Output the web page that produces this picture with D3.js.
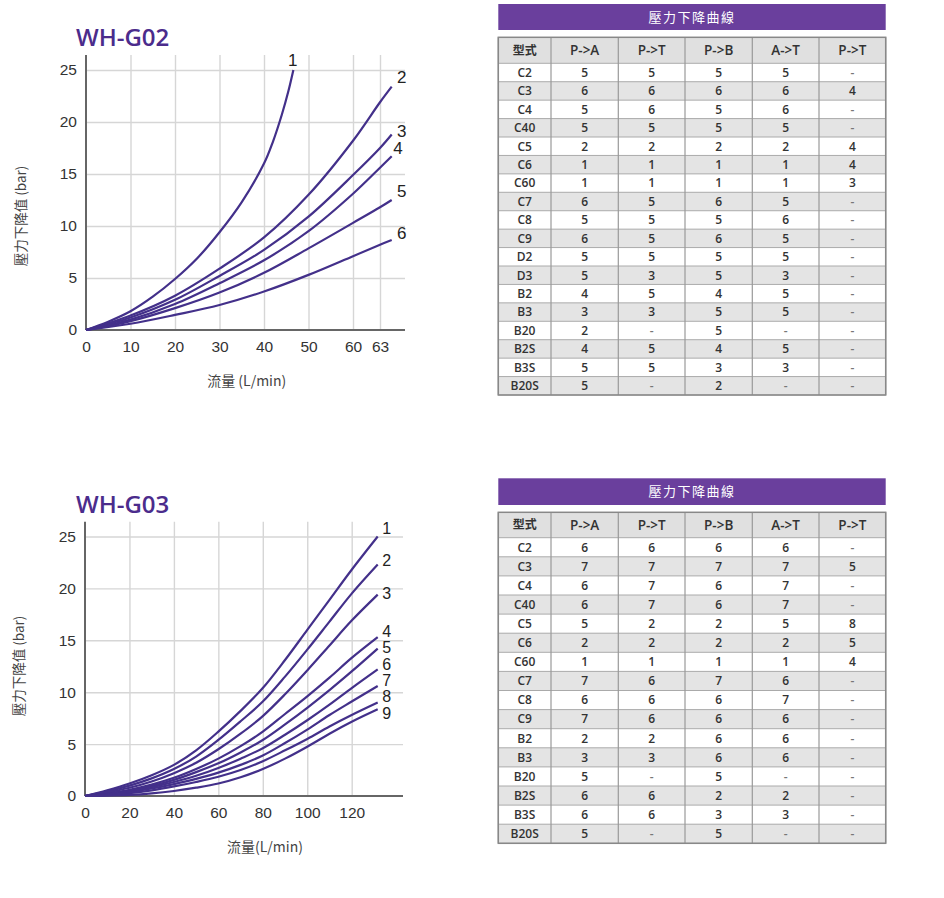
<!DOCTYPE html>
<html>
<head>
<meta charset="utf-8">
<script src="https://cdn.jsdelivr.net/npm/d3@7"></script>
<style>
body { margin: 0; background: #fff; }
svg text { font-family: "Liberation Sans", Arial, "Noto Sans CJK TC", sans-serif; }
.tbl text { font-family: "Open Sans", "Noto Sans CJK TC", sans-serif; }
</style>
</head>
<body>
<svg id="chart" width="944" height="898"></svg>
<script>
// ---- data ----
var yTicks = [0, 5, 10, 15, 20, 25];
var g02XTicks = [0, 10, 20, 30, 40, 50, 60, 63];
var g03XTicks = [0, 20, 40, 60, 80, 100, 120];

var g02Curve1 = [[0,0],[5,0.8],[10,1.8],[15,3.2],[20,4.9],[25,6.9],[30,9.4],[35,12.3],[40,16.0],[42,18.1],[44,20.7],[45.5,23.0],[46.6,25]];
var g02Curve2 = [[0,0],[10,1.4],[20,3.3],[30,5.9],[40,8.9],[50,13.0],[60,18.2],[63,21.9],[64.3,23.4]];
var g02Curve3 = [[0,0],[10,1.2],[20,2.9],[30,5.2],[40,7.7],[50,10.9],[60,14.9],[63,17.5],[64.3,18.8]];
var g02Curve4 = [[0,0],[10,1.0],[20,2.5],[30,4.5],[40,6.7],[50,9.5],[60,13.1],[63,15.6],[64.3,16.7]];
var g02Curve5 = [[0,0],[10,0.85],[20,2.1],[30,3.6],[40,5.5],[50,7.85],[60,10.3],[63,11.8],[64.3,12.5]];
var g02Curve6 = [[0,0],[10,0.6],[20,1.45],[30,2.4],[40,3.7],[50,5.3],[60,7.1],[63,8.2],[64.3,8.65]];

var g03Curve1 = [[0,0],[10,0.55],[20,1.2],[30,2.0],[40,3.0],[50,4.4],[60,6.2],[70,8.2],[80,10.4],[90,13.1],[100,16.0],[110,18.9],[120,21.8],[131.7,25]];
var g03Curve2 = [[0,0],[10,0.45],[20,1.0],[30,1.7],[40,2.6],[50,3.8],[60,5.4],[70,7.2],[80,9.1],[90,11.5],[100,14.1],[110,16.8],[120,19.5],[131.7,22.3]];
var g03Curve3 = [[0,0],[10,0.35],[20,0.8],[30,1.4],[40,2.2],[50,3.2],[60,4.5],[70,6.0],[80,7.7],[90,9.8],[100,12.1],[110,14.5],[120,16.9],[131.7,19.4]];
var g03Curve4 = [[0,0],[10,0.25],[20,0.6],[30,1.1],[40,1.75],[50,2.6],[60,3.6],[70,4.8],[80,6.2],[90,7.9],[100,9.6],[110,11.4],[120,13.3],[131.7,15.3]];
var g03Curve5 = [[0,0],[10,0.2],[20,0.5],[30,0.95],[40,1.55],[50,2.3],[60,3.15],[70,4.2],[80,5.4],[90,6.9],[100,8.5],[110,10.2],[120,12.0],[131.7,14.2]];
var g03Curve6 = [[0,0],[10,0.18],[20,0.45],[30,0.85],[40,1.35],[50,1.95],[60,2.7],[70,3.6],[80,4.6],[90,5.9],[100,7.3],[110,8.8],[120,10.4],[131.7,12.2]];
var g03Curve7 = [[0,0],[10,0.15],[20,0.38],[30,0.72],[40,1.15],[50,1.65],[60,2.25],[70,3.0],[80,3.9],[90,5.1],[100,6.4],[110,7.8],[120,9.1],[131.7,10.6]];
var g03Curve8 = [[0,0],[10,0.1],[20,0.28],[30,0.55],[40,0.92],[50,1.35],[60,1.85],[70,2.5],[80,3.35],[90,4.4],[100,5.5],[110,6.7],[120,7.8],[131.7,9.0]];
var g03Curve9 = [[0,0],[10,0.03],[20,0.1],[30,0.25],[40,0.48],[50,0.8],[60,1.2],[70,1.8],[80,2.6],[90,3.6],[100,4.75],[110,6.0],[120,7.15],[131.7,8.35]];

var tableHeaders = ["型式", "P->A", "P->T", "P->B", "A->T", "P->T"];
var g02Models = ["C2","C3","C4","C40","C5","C6","C60","C7","C8","C9","D2","D3","B2","B3","B20","B2S","B3S","B20S"];
var g02Values = [
  [5,5,5,5,"-"],[6,6,6,6,4],[5,6,5,6,"-"],[5,5,5,5,"-"],[2,2,2,2,4],[1,1,1,1,4],
  [1,1,1,1,3],[6,5,6,5,"-"],[5,5,5,6,"-"],[6,5,6,5,"-"],[5,5,5,5,"-"],[5,3,5,3,"-"],
  [4,5,4,5,"-"],[3,3,5,5,"-"],[2,"-",5,"-","-"],[4,5,4,5,"-"],[5,5,3,3,"-"],[5,"-",2,"-","-"]
];
var g03Models = ["C2","C3","C4","C40","C5","C6","C60","C7","C8","C9","B2","B3","B20","B2S","B3S","B20S"];
var g03Values = [
  [6,6,6,6,"-"],[7,7,7,7,5],[6,7,6,7,"-"],[6,7,6,7,"-"],[5,2,2,5,8],[2,2,2,2,5],
  [1,1,1,1,4],[7,6,7,6,"-"],[6,6,6,7,"-"],[7,6,6,6,"-"],[2,2,6,6,"-"],[3,3,6,6,"-"],
  [5,"-",5,"-","-"],[6,6,2,2,"-"],[6,6,3,3,"-"],[5,"-",5,"-","-"]
];

// ---- drawing ----
var svg = d3.select("#chart");
var purple = "#43308a";

function renderChart(opt) {
	var g = svg.append("g");
	var x = opt.x, y = opt.y;
	var x0 = x.range()[0], y0 = y(0);

	// grid
	g.append("g").attr("transform", "translate(0," + y0 + ")")
		.call(d3.axisBottom(x).tickValues(opt.xTicks.filter(function(d) { return d > 0; }))
			.tickSize(-(y0 - opt.top)).tickFormat(""))
		.call(function(s) { s.select(".domain").remove(); s.selectAll("line").attr("stroke", "#d6d6d6").attr("stroke-width", 1.4); });
	g.append("g").attr("transform", "translate(" + x0 + ",0)")
		.call(d3.axisLeft(y).tickValues(yTicks.filter(function(d) { return d > 0; }))
			.tickSize(-(opt.right - x0)).tickFormat(""))
		.call(function(s) { s.select(".domain").remove(); s.selectAll("line").attr("stroke", "#d6d6d6").attr("stroke-width", 1.4); });

	// axis lines
	g.append("line").attr("x1", x0).attr("x2", opt.right).attr("y1", y0).attr("y2", y0)
		.attr("stroke", "#666").attr("stroke-width", 2);
	g.append("line").attr("x1", x0).attr("x2", x0).attr("y1", y0).attr("y2", opt.top)
		.attr("stroke", "#666").attr("stroke-width", 2);

	// tick labels
	g.append("g").attr("transform", "translate(0," + y0 + ")")
		.call(d3.axisBottom(x).tickValues(opt.xTicks).tickSize(0).tickPadding(11).tickFormat(d3.format("d")))
		.call(function(s) { s.select(".domain").remove(); s.selectAll("text").attr("font-size", 15.5).attr("fill", "#333").style("font-family", "Liberation Sans, Arial"); });
	g.append("g").attr("transform", "translate(" + x0 + ",0)")
		.call(d3.axisLeft(y).tickValues(yTicks).tickSize(0).tickPadding(9).tickFormat(d3.format("d")))
		.call(function(s) { s.select(".domain").remove(); s.selectAll("text").attr("font-size", 15.5).attr("fill", "#333").style("font-family", "Liberation Sans, Arial"); });

	// curves
	var line = d3.line().x(function(d) { return x(d[0]); }).y(function(d) { return y(d[1]); })
		.curve(d3.curveCatmullRom.alpha(0.5));
	opt.curves.forEach(function(c, i) {
		g.append("path").attr("d", line(c)).attr("fill", "none")
			.attr("stroke", purple).attr("stroke-width", 2.2);
		g.append("text").attr("x", opt.labelPos[i][0]).attr("y", opt.labelPos[i][1])
			.attr("dy", "0.36em").attr("text-anchor", "middle")
			.attr("font-size", opt.labelSize).attr("fill", "#222").text(i + 1);
	});

	// titles
	g.append("text").attr("x", 76).attr("y", opt.titleY).attr("font-size", 24).attr("font-weight", 600)
		.attr("fill", "#4b2c8c").style("font-family", "Open Sans, sans-serif").text(opt.title);
	g.append("text").attr("transform", "translate(" + opt.yTitle[0] + "," + opt.yTitle[1] + ") rotate(-90)")
		.attr("text-anchor", "middle").attr("dy", "0.35em").attr("font-size", 13.5).attr("fill", "#444")
		.style("font-family", "Noto Sans CJK TC, sans-serif").text("壓力下降值 (bar)");
	g.append("text").attr("x", opt.xTitle[0]).attr("y", opt.xTitle[1]).attr("text-anchor", "middle")
		.attr("font-size", 14).attr("fill", "#444")
		.style("font-family", "Noto Sans CJK TC, sans-serif").text(opt.xTitleText);
}

function renderTable(opt) {
	var g = svg.append("g").attr("class", "tbl");
	var cols = opt.cols;
	var left = cols[0], right = cols[cols.length - 1];
	var n = opt.models.length;
	var rowY = d3.scaleLinear().domain([0, n]).range([opt.top + opt.headH, opt.bottom]);

	g.append("rect").attr("x", left).attr("y", opt.barTop).attr("width", right - left)
		.attr("height", opt.barH).attr("fill", "#6a3f9d");
	g.append("text").attr("x", (left + right) / 2).attr("y", opt.barTop + opt.barH / 2).attr("dy", "0.36em")
		.attr("text-anchor", "middle").attr("fill", "#fff").attr("font-size", 13).attr("letter-spacing", 1.5)
		.text("壓力下降曲線");

	g.append("rect").attr("x", left).attr("y", opt.top).attr("width", right - left).attr("height", opt.headH)
		.attr("fill", "#e0e0e0");
	g.selectAll(".row").data(opt.models).enter().append("rect")
		.attr("x", left).attr("y", function(d, i) { return rowY(i); })
		.attr("width", right - left).attr("height", rowY(1) - rowY(0))
		.attr("fill", function(d, i) { return i % 2 ? "#e4e4e4" : "#fff"; });

	// grid lines
	d3.range(n + 1).forEach(function(i) {
		g.append("line").attr("x1", left).attr("x2", right).attr("y1", rowY(i)).attr("y2", rowY(i))
			.attr("stroke", "#aaa").attr("stroke-width", 1);
	});
	cols.forEach(function(cx) {
		g.append("line").attr("x1", cx).attr("x2", cx).attr("y1", opt.top).attr("y2", opt.bottom)
			.attr("stroke", "#999").attr("stroke-width", 1.2);
	});
	g.append("rect").attr("x", left).attr("y", opt.top).attr("width", right - left)
		.attr("height", opt.bottom - opt.top).attr("fill", "none").attr("stroke", "#888").attr("stroke-width", 1.5);

	// header text
	tableHeaders.forEach(function(h, j) {
		g.append("text").attr("x", (cols[j] + cols[j + 1]) / 2).attr("y", opt.top + opt.headH / 2)
			.attr("dy", "0.36em").attr("text-anchor", "middle").attr("font-size", j === 0 ? 12 : 13.5)
			.attr("font-weight", j === 0 ? "bold" : 600).attr("fill", "#333").text(h);
	});
	// body text
	opt.models.forEach(function(m, i) {
		var cy = (rowY(i) + rowY(i + 1)) / 2;
		g.append("text").attr("x", (cols[0] + cols[1]) / 2).attr("y", cy).attr("dy", "0.36em")
			.attr("text-anchor", "middle").attr("font-size", 12).attr("font-weight", 600).attr("fill", "#333").text(m);
		opt.values[i].forEach(function(v, j) {
			g.append("text").attr("x", (cols[j + 1] + cols[j + 2]) / 2).attr("y", cy).attr("dy", "0.36em")
				.attr("text-anchor", "middle").attr("font-size", 12).attr("font-weight", 600)
				.attr("fill", v === "-" ? "#777" : "#333").text(v);
		});
	});
}

var tableCols = [498.3, 551, 618.3, 685, 752.3, 819, 885.7];

renderChart({
	title: "WH-G02", titleY: 46,
	x: d3.scaleLinear().domain([0, 60, 63]).range([86, 353, 380]),
	y: d3.scaleLinear().domain([0, 25]).range([330, 70]),
	xTicks: g02XTicks, top: 55, right: 405, labelSize: 17,
	curves: [g02Curve1, g02Curve2, g02Curve3, g02Curve4, g02Curve5, g02Curve6],
	labelPos: [[292.7, 60], [401.7, 77], [401.7, 131], [398, 148], [401.7, 191], [401.7, 233]],
	yTitle: [21, 216], xTitle: [246.7, 386], xTitleText: "流量 (L/min)"
});
renderChart({
	title: "WH-G03", titleY: 512.7,
	x: d3.scaleLinear().domain([0, 120]).range([85, 351.7]),
	y: d3.scaleLinear().domain([0, 25]).range([796, 536.5]),
	xTicks: g03XTicks, top: 521.7, right: 403, labelSize: 16,
	curves: [g03Curve1, g03Curve2, g03Curve3, g03Curve4, g03Curve5, g03Curve6, g03Curve7, g03Curve8, g03Curve9],
	labelPos: [[386.7, 528], [386.7, 560], [386.7, 593], [386.7, 631], [386.7, 647], [386.7, 664], [386.7, 680], [386.7, 696], [386.7, 713]],
	yTitle: [19, 666], xTitle: [265, 851.7], xTitleText: "流量(L/min)"
});

renderTable({ cols: tableCols, barTop: 4, barH: 26, top: 37.3, headH: 26, bottom: 395,
	models: g02Models, values: g02Values });
renderTable({ cols: tableCols, barTop: 478.3, barH: 26.7, top: 512.3, headH: 25.4, bottom: 843.3,
	models: g03Models, values: g03Values });
</script>
</body>
</html>
